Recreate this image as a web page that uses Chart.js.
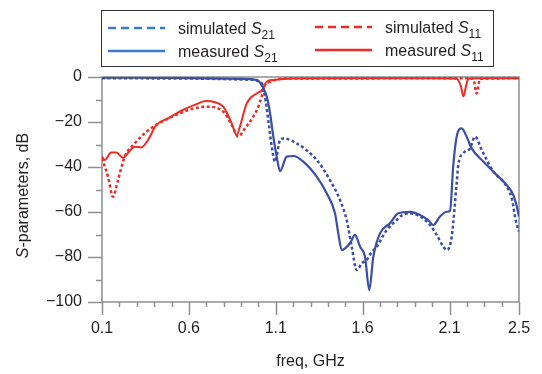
<!DOCTYPE html>
<html>
<head>
<meta charset="utf-8">
<script src="https://cdn.jsdelivr.net/npm/chart.js@4"></script>
<style>
  body { margin: 0; background: #fff; }
  #wrap { width: 542px; height: 374px; }
</style>
</head>
<body>
<div id="wrap"><canvas id="c"></canvas></div>
<script>
// tick labels
const xTicks = [0.1, 0.6, 1.1, 1.6, 2.1, 2.5];
const yTicks = [0, -20, -40, -60, -80, -100];

// measured S21
const s21MeasFreq = [0.1, 0.3, 0.6, 0.9, 0.99, 1.019, 1.048, 1.067, 1.086, 1.1055, 1.1245, 1.163, 1.201, 1.2586, 1.3357, 1.3932, 1.441, 1.46, 1.4796, 1.5273, 1.5561, 1.5849, 1.6137, 1.6384, 1.6614, 1.7, 1.7576, 1.8053, 1.8727, 1.9302, 1.9779, 2.0068, 2.0453, 2.0839, 2.1029, 2.1219, 2.1413, 2.17, 2.1985, 2.2276, 2.2946, 2.3717, 2.4292, 2.4673, 2.49, 2.5];
const s21MeasDb = [-0.3, -0.3, -0.5, -0.8, -1.3, -3.6, -8.7, -16, -26.5, -35.4, -41.8, -35.4, -35.1, -37.6, -44.3, -51.7, -60.6, -69.5, -76.9, -73.9, -70.2, -75.4, -79.9, -94.7, -79.9, -69.5, -65, -60.6, -59.9, -61.3, -63.6, -65.8, -62, -59.9, -59.5, -39.1, -26.5, -22.8, -26.5, -31.7, -37.6, -43.6, -48, -52.4, -58.4, -62];

// simulated S21
const s21SimFreq = [0.1, 0.6, 0.95, 1.019, 1.038, 1.057, 1.077, 1.0957, 1.1245, 1.1435, 1.2206, 1.3357, 1.4122, 1.4698, 1.5084, 1.5371, 1.5659, 1.5946, 1.6235, 1.65, 1.681, 1.7386, 1.7961, 1.8151, 1.8727, 1.9302, 1.9878, 2.0263, 2.0644, 2.0839, 2.1126, 2.1413, 2.1506, 2.1795, 2.218, 2.2468, 2.2853, 2.352, 2.4096, 2.458, 2.4827, 2.5];
const s21SimDb = [-0.5, -0.7, -1.2, -2.8, -8.7, -19.1, -31, -37.6, -28, -27.3, -29.5, -36.9, -45.8, -54.7, -63.6, -75.4, -85.8, -82.8, -81.3, -78, -75.4, -68, -63.6, -62, -60.6, -62, -65.8, -70.2, -75.4, -76.9, -71, -47.2, -39.1, -33.9, -31.7, -26.5, -32.4, -42, -46.5, -53.9, -64.3, -68.7];

// measured S11
const s11MeasFreq = [0.1, 0.1155, 0.1535, 0.1823, 0.2209, 0.2594, 0.2882, 0.3262, 0.3647, 0.4125, 0.48, 0.556, 0.6335, 0.7, 0.75, 0.798, 0.8465, 0.875, 0.894, 0.933, 0.99, 1.019, 1.048, 1.086, 1.2, 1.5, 2.0, 2.141, 2.165, 2.18, 2.195, 2.208, 2.3, 2.5];
const s11MeasDb = [-35.4, -36.9, -33.6, -33.6, -35.9, -32.9, -31, -31.3, -28, -21.3, -18.4, -15, -12.4, -10.7, -11.2, -13.2, -20.6, -25.8, -22, -11.7, -7.3, -6, -2.1, -1.3, -0.7, -0.6, -0.6, -0.8, -4, -8.7, -4, -0.8, -0.6, -0.6];

// simulated S11
const s11SimFreq = [0.1, 0.1345, 0.163, 0.192, 0.2306, 0.2882, 0.3458, 0.4125, 0.556, 0.6335, 0.7026, 0.798, 0.8465, 0.8845, 0.923, 0.9708, 0.9996, 1.019, 1.038, 1.067, 1.15, 2.2, 2.237, 2.256, 2.276, 2.5];
const s11SimDb = [-36.1, -44.3, -53.2, -45.8, -35.4, -29.5, -25, -21.3, -15.9, -13.9, -13.2, -15.4, -21.3, -26.5, -22.8, -17.6, -13.2, -8.7, -3.6, -2.1, -0.7, -0.6, -0.8, -7.3, -0.8, -0.6];

const pts = (fs, ds) => fs.map((f, i) => ({ x: f, y: ds[i] }));

const BLUE = '#3a4ea6';
const BLUE_KEY = '#3a7bc8';
const RED = '#ee2b24';
const TEXT = '#231f20';
const AXIS = '#8f8f8f';
const FONT = '"Liberation Sans", Arial, sans-serif';

// frame box, minor/major tick marks and y-axis title
const frame = {
  id: 'frame',
  beforeDatasetsDraw(chart) {
    const { ctx, chartArea: a, scales: { x, y } } = chart;
    ctx.save();
    ctx.strokeStyle = AXIS;
    ctx.lineWidth = 1.5;
    ctx.strokeRect(a.left, a.top, a.right - a.left, a.bottom - a.top);
    ctx.beginPath();
    for (let i = 1; i <= 25; i++) {
      const v = i / 10;
      const px = Math.round(x.getPixelForValue(v)) + 0.5;
      const major = xTicks.some(t => Math.abs(t - v) < 1e-6);
      ctx.moveTo(px, a.bottom);
      ctx.lineTo(px, a.bottom + (major ? 13 : 5));
    }
    for (let v = 0; v >= -100; v -= 10) {
      const py = Math.round(y.getPixelForValue(v)) + 0.5;
      ctx.moveTo(a.left, py);
      ctx.lineTo(a.left - (v % 20 === 0 ? 14 : 6), py);
    }
    ctx.stroke();

    // y title with italic S
    ctx.translate(24, (a.top + a.bottom) / 2 + 6);
    ctx.rotate(-Math.PI / 2);
    ctx.fillStyle = TEXT;
    ctx.textBaseline = 'middle';
    const it = 'italic 16px ' + FONT, rg = '16px ' + FONT;
    ctx.font = it; const w1 = ctx.measureText('S').width;
    ctx.font = rg; const w2 = ctx.measureText('-parameters, dB').width;
    let sx = -(w1 + w2) / 2;
    ctx.font = it; ctx.fillText('S', sx, 0);
    ctx.font = rg; ctx.fillText('-parameters, dB', sx + w1, 0);
    ctx.restore();
  },
  afterDraw(chart) {
    const { ctx } = chart;
    ctx.save();
    ctx.strokeStyle = '#333';
    ctx.lineWidth = 1;
    ctx.strokeRect(101.5, 10.5, 392, 56);

    const entries = [
      { x0: 108, y: 28, color: BLUE_KEY, dash: [8, 5], label: 'simulated ', sub: '21' },
      { x0: 108, y: 51, color: BLUE_KEY, dash: [], label: 'measured ', sub: '21' },
      { x0: 315, y: 27, color: RED, dash: [8, 5], label: 'simulated ', sub: '11' },
      { x0: 315, y: 50, color: RED, dash: [], label: 'measured ', sub: '11' }
    ];
    entries.forEach(e => {
      ctx.strokeStyle = e.color;
      ctx.lineWidth = 2.5;
      ctx.setLineDash(e.dash);
      ctx.beginPath();
      ctx.moveTo(e.x0, e.y);
      ctx.lineTo(e.x0 + 57, e.y);
      ctx.stroke();
      ctx.setLineDash([]);
      ctx.fillStyle = TEXT;
      ctx.textBaseline = 'alphabetic';
      let tx = e.x0 + 70;
      const by = e.y + 6;
      ctx.font = '16px ' + FONT;
      ctx.fillText(e.label, tx, by);
      tx += ctx.measureText(e.label).width;
      ctx.font = 'italic 16px ' + FONT;
      ctx.fillText('S', tx, by);
      tx += ctx.measureText('S').width;
      ctx.font = '12px ' + FONT;
      ctx.fillText(e.sub, tx, by + 5);
    });
    ctx.restore();
  }
};

const line = (label, data, color, dashed, width) => ({
  label,
  data,
  borderColor: color,
  borderWidth: width,
  borderDash: dashed ? [3, 2.5] : [],
  pointRadius: 0,
  fill: false,
  cubicInterpolationMode: 'monotone'
});

new Chart(document.getElementById('c'), {
  type: 'line',
  data: {
    datasets: [
      line('measured S21', pts(s21MeasFreq, s21MeasDb), BLUE, false, 2.2),
      line('simulated S21', pts(s21SimFreq, s21SimDb), BLUE, true, 2.5),
      line('measured S11', pts(s11MeasFreq, s11MeasDb), RED, false, 2),
      line('simulated S11', pts(s11SimFreq, s11SimDb), RED, true, 2.5)
    ]
  },
  options: {
    responsive: true,
    maintainAspectRatio: false,
    animation: false,
    layout: { padding: { top: 77, right: 23, left: 0, bottom: 0 } },
    plugins: { legend: { display: false }, tooltip: { enabled: false } },
    scales: {
      x: {
        type: 'linear',
        min: 0.1,
        max: 2.5,
        afterBuildTicks: s => { s.ticks = xTicks.map(v => ({ value: v })); },
        afterFit: s => { s.height = 72; },
        grid: { display: false },
        border: { display: false },
        ticks: {
          padding: 9,
          color: TEXT,
          font: { size: 16, family: FONT },
          maxRotation: 0,
          callback: v => v.toFixed(1)
        },
        title: {
          display: true,
          text: 'freq, GHz',
          color: TEXT,
          font: { size: 16, family: FONT },
          padding: { top: 0, bottom: 3 }
        }
      },
      y: {
        min: -100,
        max: 0,
        afterBuildTicks: s => { s.ticks = yTicks.map(v => ({ value: v })); },
        afterFit: s => { s.width = 102; },
        grid: { display: false },
        border: { display: false },
        ticks: {
          padding: 12,
          color: TEXT,
          font: { size: 16, family: FONT },
          callback: v => String(v).replace('-', '\u2212')
        }
      }
    }
  },
  plugins: [frame]
});
</script>
</body>
</html>
